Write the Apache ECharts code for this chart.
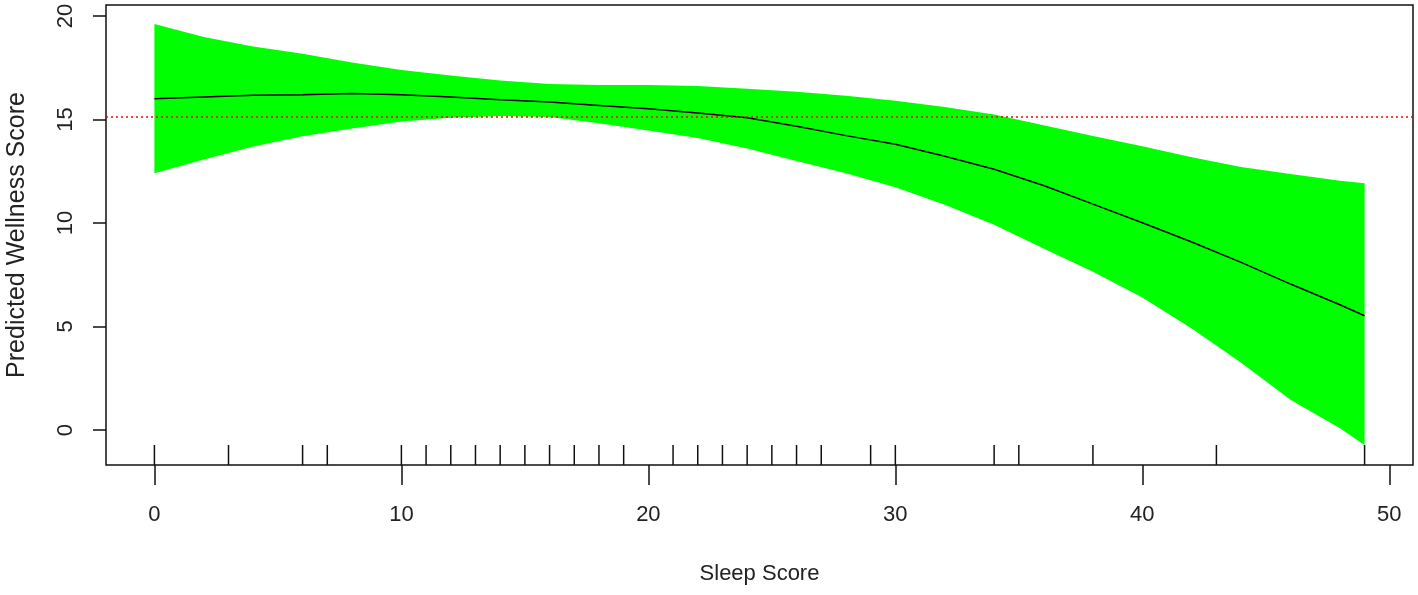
<!DOCTYPE html>
<html>
<head>
<meta charset="utf-8">
<script src="https://cdn.jsdelivr.net/npm/echarts@6/dist/echarts.min.js"></script>
<style>
  html, body { margin: 0; padding: 0; background: #fff; }
  #main { width: 1418px; height: 595px; }
</style>
</head>
<body>
<div id="main"></div>
<script>
// sleep score sample points and predicted wellness (fit + band)
var sleepX = [0, 2, 4, 6, 8, 10, 12, 14, 16, 18, 20, 22, 24, 26, 28, 30, 32, 34, 36, 38, 40, 42, 44, 46, 48, 49];
var fitY   = [16.0, 16.09, 16.17, 16.2, 16.25, 16.2, 16.09, 15.95, 15.84, 15.68, 15.52, 15.31, 15.08, 14.67, 14.22, 13.8, 13.22, 12.6, 11.81, 10.91, 10.01, 9.08, 8.1, 7.05, 6.05, 5.52];
var upperY = [19.61, 18.99, 18.52, 18.17, 17.75, 17.39, 17.12, 16.88, 16.71, 16.67, 16.67, 16.62, 16.48, 16.34, 16.15, 15.9, 15.6, 15.24, 14.72, 14.2, 13.71, 13.17, 12.7, 12.37, 12.04, 11.92];
var lowerY = [12.4, 13.07, 13.7, 14.19, 14.57, 14.9, 15.08, 15.17, 15.12, 14.82, 14.47, 14.1, 13.6, 13.0, 12.4, 11.73, 10.88, 9.92, 8.77, 7.65, 6.4, 4.9, 3.25, 1.46, 0.08, -0.72];

// observed sleep scores (rug)
var rugX = [0, 3, 6, 7, 10, 11, 12, 13, 14, 15, 16, 17, 18, 19, 21, 22, 23, 24, 25, 26, 27, 29, 30, 34, 35, 38, 43, 49];

var xTicks = [0, 10, 20, 30, 40, 50];
var yTicks = [0, 5, 10, 15, 20];
var refLine = 15.12;

var xMin = -1.96, xMax = 50.96;
var yMin = -1.69, yMax = 20.53;

var chartDom = document.getElementById('main');
var myChart = echarts.init(chartDom);

var font = 'Liberation Sans, Arial, sans-serif';

var option = {
  animation: false,
  grid: {
    left: 106,
    right: 5,
    top: 5,
    bottom: 130,
    containLabel: false,
    outerBoundsMode: 'none',
    show: true,
    borderColor: '#111',
    borderWidth: 1.5,
    backgroundColor: 'transparent'
  },
  xAxis: {
    type: 'value',
    min: xMin,
    max: xMax,
    name: 'Sleep Score',
    nameLocation: 'middle',
    nameGap: 98,
    nameTextStyle: { fontFamily: font, fontSize: 22, color: '#222' },
    axisLine: { show: false, onZero: false },
    splitLine: { show: false },
    axisTick: {
      show: true,
      inside: false,
      length: 20,
      customValues: xTicks,
      lineStyle: { color: '#111', width: 1.5 }
    },
    axisLabel: {
      customValues: xTicks,
      margin: 39,
      fontFamily: font,
      fontSize: 22,
      color: '#222'
    }
  },
  yAxis: {
    type: 'value',
    min: yMin,
    max: yMax,
    name: 'Predicted Wellness Score',
    nameLocation: 'middle',
    nameGap: 76,
    nameTextStyle: { fontFamily: font, fontSize: 25, color: '#222' },
    axisLine: { show: false, onZero: false },
    splitLine: { show: false },
    axisTick: {
      show: true,
      inside: false,
      length: 13,
      customValues: yTicks,
      lineStyle: { color: '#111', width: 1.5 }
    },
    axisLabel: {
      customValues: yTicks,
      rotate: 90,
      margin: 29,
      fontFamily: font,
      fontSize: 22,
      color: '#222'
    }
  },
  series: [
    {
      // confidence band
      type: 'custom',
      silent: true,
      z: 1,
      data: [[sleepX[0], fitY[0]]],
      renderItem: function(params, api) {
        var pts = [];
        for (var i = 0; i < sleepX.length; i++) {
          pts.push(api.coord([sleepX[i], upperY[i]]));
        }
        for (var j = sleepX.length - 1; j >= 0; j--) {
          pts.push(api.coord([sleepX[j], lowerY[j]]));
        }
        return {
          type: 'polygon',
          shape: { points: pts },
          style: { fill: '#00ff00', stroke: null }
        };
      }
    },
    {
      // rug
      type: 'custom',
      silent: true,
      z: 3,
      data: rugX.map(function(v) { return [v, yMin]; }),
      renderItem: function(params, api) {
        var p = api.coord([api.value(0), yMin]);
        return {
          type: 'line',
          shape: { x1: p[0], y1: p[1], x2: p[0], y2: p[1] - 20 },
          style: { stroke: '#111', lineWidth: 1.5 }
        };
      }
    },
    {
      // fitted line
      type: 'line',
      z: 4,
      showSymbol: false,
      silent: true,
      data: sleepX.map(function(x, i) { return [x, fitY[i]]; }),
      lineStyle: { color: '#000', width: 1.5 },
      markLine: {
        silent: true,
        symbol: ['none', 'none'],
        label: { show: false },
        lineStyle: { color: '#ff0000', type: [2, 3], width: 1.5 },
        data: [{ yAxis: refLine }]
      }
    }
  ]
};

myChart.setOption(option);
</script>
</body>
</html>
